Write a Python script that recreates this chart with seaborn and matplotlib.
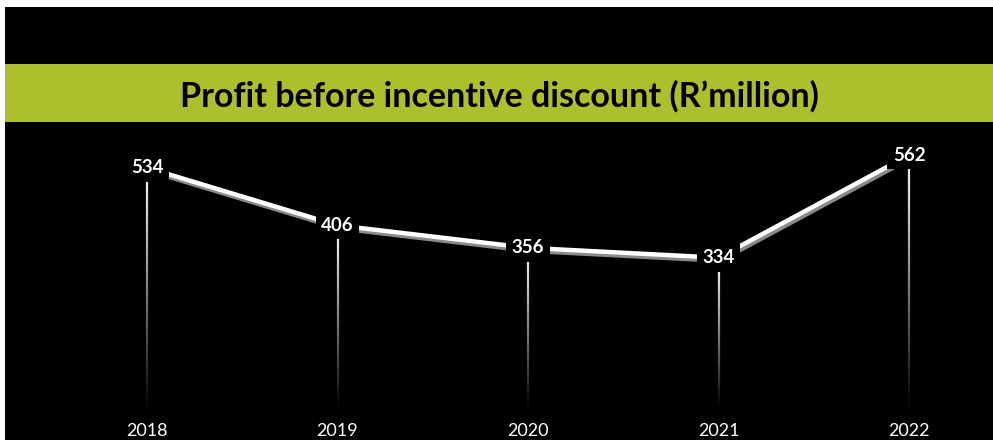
import numpy as np
import pandas as pd
import matplotlib
matplotlib.use("Agg")
import matplotlib.pyplot as plt
import matplotlib.patheffects as pe
from matplotlib.patches import Rectangle
from matplotlib.collections import LineCollection
import seaborn as sns

# Data
years = ["2018", "2019", "2020", "2021", "2022"]
profit = [534, 406, 356, 334, 562]
title = "Profit before incentive discount (R\u2019million)"

sns.set_style("dark")
plt.rcParams["font.family"] = ["Lato", "DejaVu Sans"]

W, H = 993, 440
fig = plt.figure(figsize=(W / 100, H / 100), dpi=100, facecolor="white")

# Black panel and green title band (pixel geometry in figure fractions)
fig.add_artist(Rectangle((5 / W, 0), (W - 5) / W, (H - 7) / H,
                         transform=fig.transFigure, fc="black", ec="none", zorder=0))
fig.add_artist(Rectangle((5 / W, 1 - 122 / H), (W - 5) / W, 58 / H,
                         transform=fig.transFigure, fc="#adbf2d", ec="none", zorder=1))
fig.text(499 / W, 1 - 96 / H, title, ha="center", va="center",
         fontsize=24.5, fontweight="bold", color="black", zorder=2)

ax = fig.add_axes([0, 0, 1, 1])
ax.set_facecolor("none")
ax.set_axis_off()

df = pd.DataFrame({"pos": np.arange(len(years)), "profit": profit})

# Axis limits: x step 190.5 px starting at 147 px; y 0.45 px per unit, zero at 408 px
x0, dx = 147, 190.5
ax.set_xlim(-x0 / dx, (W - x0) / dx)
y0, sy = 408, 0.45
ax.set_ylim(-(H - y0) / sy, y0 / sy)

# Fading drop lines from each value down to zero
segs, cols = [], []
n = 80
for x, v in zip(df["pos"], df["profit"]):
    ys = np.linspace(0, v, n + 1)
    for i in range(n):
        segs.append([(x, ys[i]), (x, ys[i + 1])])
        g = 0.92 * min(1.0, 1.1 * (i + 0.5) / n)
        cols.append((g, g, g, 1.0))
ax.add_collection(LineCollection(segs, colors=cols, linewidths=1.6,
                                 capstyle="butt", zorder=2))

# Main line with a soft grey shadow
sns.lineplot(data=df, x="pos", y="profit", ax=ax, color="white", lw=3.2,
             zorder=3, legend=False,
             path_effects=[pe.SimpleLineShadow(offset=(1.2, -2.2),
                                               shadow_color="#8a8a8a", alpha=1.0),
                           pe.Normal()])
ax.set_axis_off()

# Value labels on black boxes
for x, v in zip(df["pos"], df["profit"]):
    ax.text(x, v, f"{v}", ha="center", va="center", fontsize=13.5,
            fontweight="bold", color="white", zorder=5,
            bbox=dict(boxstyle="square,pad=0.3", fc="black", ec="none"))

# Year labels along the bottom
for x, yr in zip(df["pos"], years):
    ax.text(x, 1 - 431 / H, yr, transform=ax.get_xaxis_transform(),
            ha="center", va="center", fontsize=13, color="white", zorder=5)

fig.savefig("out.png", dpi=100, facecolor=fig.get_facecolor())
